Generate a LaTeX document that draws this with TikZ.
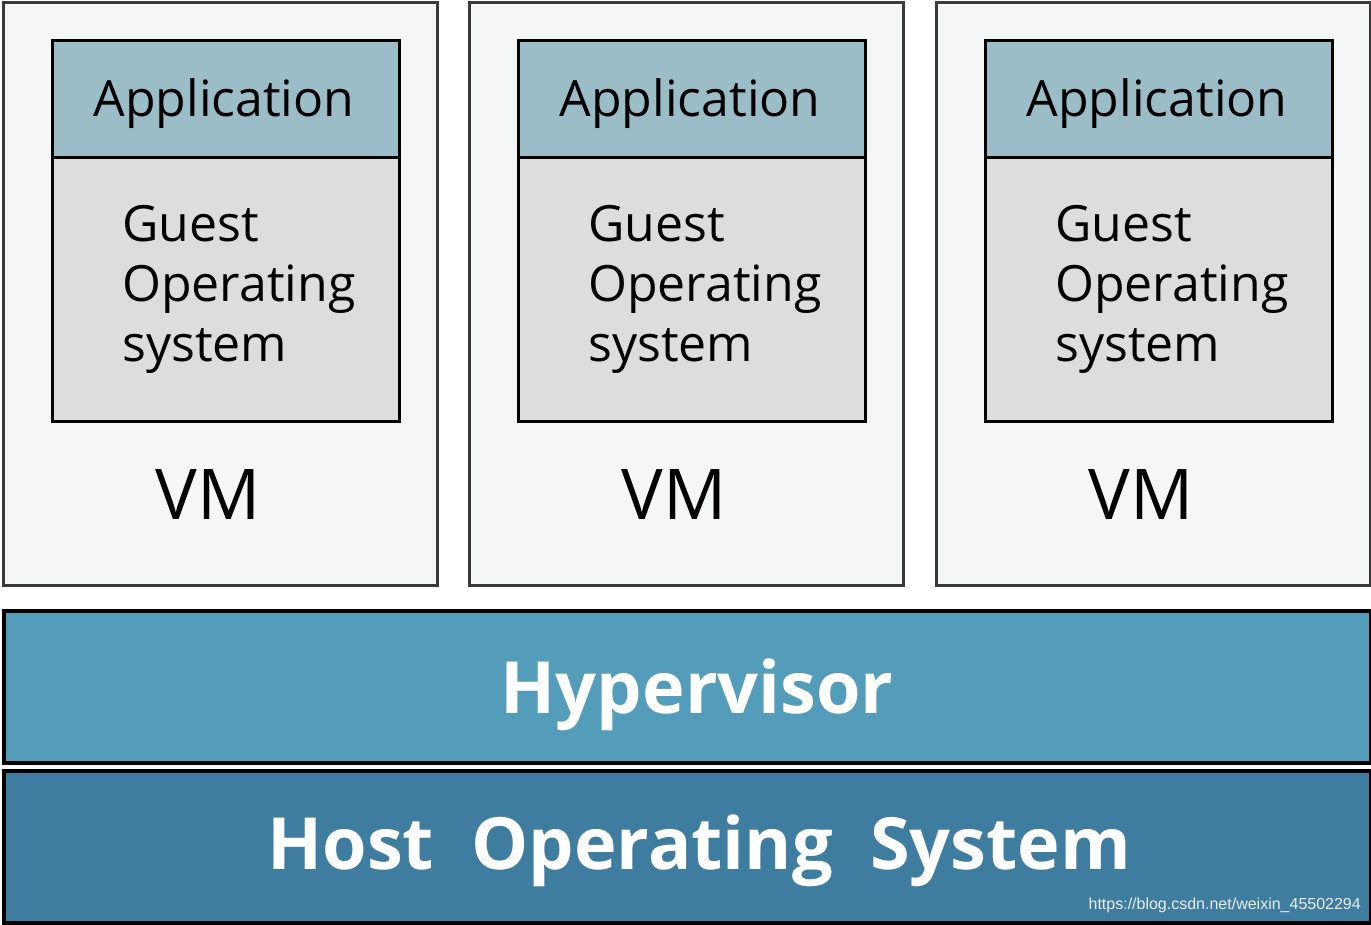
\documentclass[tikz,border=0pt]{standalone}
\usepackage{fontspec}
\setmainfont{Open Sans}
\newfontfamily\wmfont{Liberation Sans}
\usetikzlibrary{positioning}

\definecolor{vmfill}{HTML}{F5F7F6}
\definecolor{vmline}{HTML}{3A3A3A}
\definecolor{appfill}{HTML}{9BBDC8}
\definecolor{guestfill}{HTML}{DCDEDE}
\definecolor{hypfill}{HTML}{539CBA}
\definecolor{hostfill}{HTML}{3E7DA0}

\tikzset{
  vmbox/.style={draw=vmline, fill=vmfill, line width=3pt, anchor=north west,
    minimum width=434pt, minimum height=583pt, inner sep=0pt},
  appbox/.style={draw=black, fill=appfill, line width=3pt, anchor=north west,
    minimum width=347pt, minimum height=117pt, inner sep=0pt},
  guestbox/.style={draw=black, fill=guestfill, line width=3pt, anchor=north west,
    minimum width=347pt, minimum height=264pt, inner sep=0pt},
  layerbox/.style={draw=black, line width=3.5pt, anchor=north west,
    minimum width=1367pt, minimum height=152pt, inner sep=0pt},
  boxtext/.style={font=\fontsize{50}{60}\selectfont, inner sep=0pt},
  vmtext/.style={font=\fontsize{70}{84}\selectfont, inner sep=0pt},
  layertext/.style={font=\fontsize{72}{86}\selectfont\bfseries, text=white, inner sep=0pt}
}

\begin{document}
\begin{tikzpicture}[x=1pt, y=-1pt]
  \useasboundingbox (0,0) rectangle (1371,924);
  \fill[white] (0,0) rectangle (1371,924);

  % virtual machines
  \foreach \i/\x in {1/2, 2/468, 3/935} {
    \node[vmbox] (vm\i) at (\x,1) {};
    \node[appbox] (app\i) at (\x+49,39) {};
    \node[guestbox] (guest\i) at (\x+49,156) {};
    \node[boxtext] at ([xshift=-2pt, yshift=-5pt]app\i.center) {Application};
    \node[boxtext, align=left, anchor=west] at (\x+120,289) {Guest\\Operating\\system};
    \node[vmtext] at (\x+206,495) {VM};
  }

  % hypervisor
  \node[layerbox, fill=hypfill] (hyp) at (2,609) {};
  \node[layertext] at ([xshift=10pt, yshift=-8pt]hyp.center) {Hypervisor};

  % host os
  \node[layerbox, fill=hostfill] (host) at (2,769) {};
  \node[layertext] at ([xshift=12pt, yshift=-4pt]host.center) {Host\ \ Operating\ \ System};

  % watermark
  \node[font=\wmfont\fontsize{16}{19}\selectfont, text=white!85!gray, anchor=east, inner sep=0pt]
    (wm) at (1361,905) {https://blog.csdn.net/weixin\_45502294};
\end{tikzpicture}
\end{document}
